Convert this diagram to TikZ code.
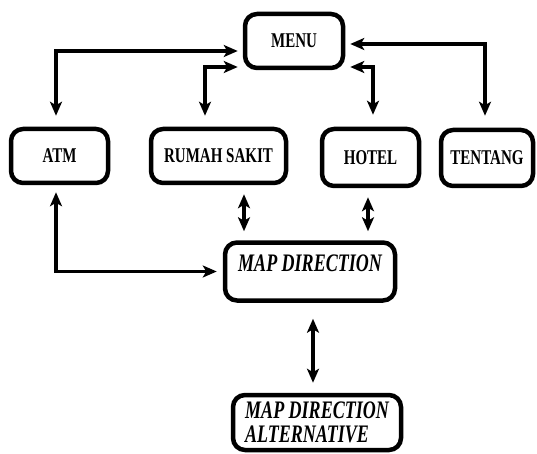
\documentclass[tikz,border=0pt]{standalone}
\usepackage{fontspec}
\setmainfont{Liberation Serif}
\usepackage{graphicx}
\usetikzlibrary{positioning, arrows.meta}

\newcommand{\tall}[1]{\scalebox{1}[1.4]{#1}}

\begin{document}
\begin{tikzpicture}[
    x=1pt, y=-1pt,
    menu box/.style={
      rectangle,
      draw=black,
      line width=4.5pt,
      rounded corners=12pt,
      minimum height=54pt,
      inner sep=4pt,
      font=\fontsize{15}{18}\selectfont\bfseries
    },
    map box/.style={
      menu box,
      font=\fontsize{18}{24}\selectfont\bfseries\itshape
    },
    link/.style={
      {Stealth[length=14pt,width=12pt,inset=3.5pt]}-{Stealth[length=14pt,width=12pt,inset=3.5pt]},
      line width=3.2pt
    }
  ]

    \useasboundingbox (0,0) rectangle (537,454);

    \node[menu box, minimum width=98pt] (menu) at (294,41) {\tall{MENU}};

    \node[menu box, minimum width=97pt] (atm) at (59.5,156) {\tall{ATM}};
    \node[menu box, minimum width=135pt] (rumah) at (218.5,156) {\tall{RUMAH SAKIT}};
    \node[menu box, minimum width=97pt, minimum height=57pt] (hotel) at (370.5,157.5) {\tall{HOTEL}};
    \node[menu box, minimum width=92pt, minimum height=56pt] (tentang) at (487,158) {\tall{TENTANG}};

    \node[map box, minimum width=170pt, minimum height=58pt, text depth=16pt] (map) at (310,271.5) {\tall{MAP DIRECTION}};
    \node[map box, minimum width=168pt, minimum height=55pt, align=left] (alt) at (317,422.5)
      {\tall{MAP DIRECTION}\\\tall{ALTERNATIVE}};

    % menu to the four pages
    \draw[link, shorten <=5pt, shorten >=11pt] ([yshift=-10pt]menu.west) -| ([xshift=-3.5pt]atm.north);
    \draw[link, shorten <=5pt, shorten >=11pt] ([yshift=-26pt]menu.west) -| ([xshift=-13.5pt]rumah.north);
    \draw[link, shorten <=5pt, shorten >=12pt] ([yshift=-26pt]menu.east) -| ([xshift=2.5pt]hotel.north);
    \draw[link, shorten <=5pt, shorten >=12pt] ([yshift=-3pt]menu.east) -| ([xshift=-2pt]tentang.north);

    % pages to map direction
    \draw[link, shorten <=7pt, shorten >=6pt] ([xshift=-3.5pt]atm.south) |- (map.west);
    \draw[link, shorten <=9pt, shorten >=9pt] ([xshift=25.5pt]rumah.south) -- ([xshift=25.5pt]rumah.south |- map.north);
    \draw[link, shorten <=9pt, shorten >=9pt] ([xshift=-2.5pt]hotel.south) -- ([xshift=-2.5pt]hotel.south |- map.north);

    \draw[link, shorten <=16pt, shorten >=10pt] ([xshift=3pt]map.south) -- ([xshift=3pt]map.south |- alt.north);

  \end{tikzpicture}
\end{document}
